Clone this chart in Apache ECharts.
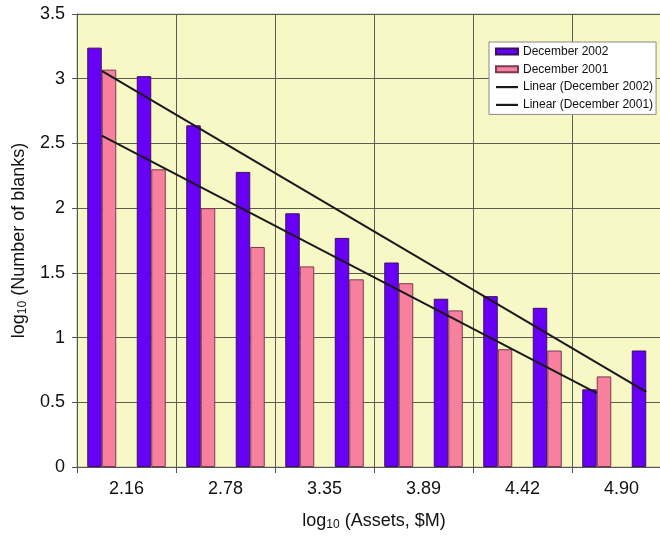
<!DOCTYPE html>
<html>
<head>
<meta charset="utf-8">
<script src="https://cdn.jsdelivr.net/npm/echarts@6/dist/echarts.min.js"></script>
<style>
html,body{margin:0;padding:0;background:#fff;overflow:hidden;width:660px;height:536px;}
#c{width:671px;height:536px;}
</style>
</head>
<body>
<div id="c"></div>
<script>
// 12 asset-size bins (category positions)
var categories = ['1','2','3','4','5','6','7','8','9','10','11','12'];
// labels shown under each pair of bins
var tickLabels = ['2.16','2.78','3.35','3.89','4.42','4.90'];
var dec2002 = [3.24, 3.02, 2.64, 2.28, 1.96, 1.77, 1.58, 1.30, 1.32, 1.23, 0.60, 0.90];
var dec2001 = [3.07, 2.30, 2.00, 1.70, 1.55, 1.45, 1.42, 1.21, 0.91, 0.90, 0.70, null];
// linear trend lines: [start value, end value] with start/end bin indices
var trend2002 = [3.06, 0.58];
var trend2002Range = [0, 11];
var trend2001 = [2.56, 0.57];
var trend2001Range = [0, 10];

var FONT = 'Liberation Sans, Arial, Helvetica, sans-serif';
var chart = echarts.init(document.getElementById('c'), null, {renderer: 'canvas'});
var subRich = {
  sub: {fontSize: 12, fontFamily: FONT, color: '#111', padding: [8, 0, 0, 0]}
};
var lineIcon = 'path://M0,0 L22,0 L22,2.2 L0,2.2 Z';
chart.setOption({
  animation: false,
  textStyle: {fontFamily: FONT},
  grid: {
    left: 77, top: 14, right: 0, bottom: 63,
    show: true, backgroundColor: '#f8f8c6', borderColor: '#b5b5a8', borderWidth: 1
  },
  legend: {
    orient: 'vertical',
    left: 489, top: 42,
    backgroundColor: '#ffffff',
    borderColor: '#8a8a8a', borderWidth: 1,
    padding: [3, 3, 3, 6],
    itemGap: 4.8,
    itemWidth: 22, itemHeight: 6,
    itemTextGap: 5,
    textStyle: {fontSize: 12, color: '#111', fontFamily: FONT, lineHeight: 13},
    data: [
      {name: 'December 2002', icon: 'rect'},
      {name: 'December 2001', icon: 'rect'},
      {name: 'Linear (December 2002)', icon: lineIcon},
      {name: 'Linear (December 2001)', icon: lineIcon}
    ]
  },
  xAxis: [{
    type: 'category',
    data: categories,
    boundaryGap: true,
    axisLine: {show: true, lineStyle: {color: '#555', width: 1}},
    axisTick: {show: true, interval: 1, length: 6, lineStyle: {color: '#555'}},
    axisLabel: {show: false},
    splitLine: {show: true, interval: 1, lineStyle: {color: '#5e5e50', width: 1}}
  }, {
    type: 'category',
    data: tickLabels,
    position: 'bottom',
    gridIndex: 0,
    boundaryGap: true,
    axisLine: {show: false},
    axisTick: {show: false},
    splitLine: {show: false},
    axisLabel: {fontSize: 18, color: '#111', margin: 13, fontFamily: FONT},
    name: 'log{sub|10} (Assets, $M)',
    nameLocation: 'middle',
    nameGap: 44,
    nameTextStyle: {fontSize: 18, color: '#111', fontFamily: FONT, rich: subRich}
  }],
  yAxis: {
    type: 'value',
    min: 0, max: 3.5, interval: 0.5,
    axisLine: {show: true, lineStyle: {color: '#555', width: 1}},
    axisTick: {show: true, length: 5, lineStyle: {color: '#555'}},
    axisLabel: {fontSize: 18, color: '#111', margin: 12, fontFamily: FONT},
    splitLine: {show: true, lineStyle: {color: '#5e5e50', width: 1}},
    name: 'log{sub|10} (Number of blanks)',
    nameLocation: 'middle',
    nameGap: 46,
    nameRotate: 90,
    nameTextStyle: {fontSize: 18, color: '#111', fontFamily: FONT, rich: subRich}
  },
  series: [{
    name: 'December 2002',
    type: 'bar',
    xAxisIndex: 0,
    data: dec2002,
    barWidth: 14.5,
    barGap: '0%',
    itemStyle: {color: '#6800f8', borderColor: '#3a1060', borderWidth: 1}
  }, {
    name: 'December 2001',
    type: 'bar',
    xAxisIndex: 0,
    data: dec2001,
    barWidth: 14.5,
    barGap: '0%',
    itemStyle: {color: '#f7809f', borderColor: '#7a3a50', borderWidth: 1}
  }, {
    name: 'Linear (December 2002)',
    type: 'line',
    xAxisIndex: 0,
    symbol: 'none',
    z: 5,
    data: [[categories[trend2002Range[0]], trend2002[0]], [categories[trend2002Range[1]], trend2002[1]]],
    itemStyle: {color: '#1a1a1a'},
    lineStyle: {color: '#1a1a1a', width: 2}
  }, {
    name: 'Linear (December 2001)',
    type: 'line',
    xAxisIndex: 0,
    symbol: 'none',
    z: 5,
    data: [[categories[trend2001Range[0]], trend2001[0]], [categories[trend2001Range[1]], trend2001[1]]],
    itemStyle: {color: '#1a1a1a'},
    lineStyle: {color: '#1a1a1a', width: 2}
  }]
});
</script>
</body>
</html>
